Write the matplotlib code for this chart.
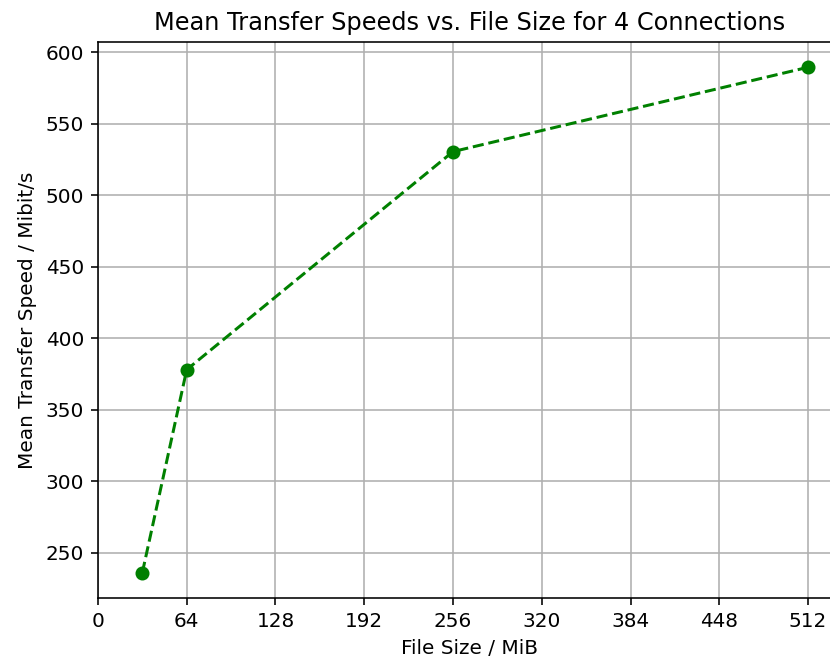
import matplotlib
matplotlib.use("Agg")
import matplotlib.pyplot as plt

file_sizes = [32, 64, 256, 512]
mean_speeds = [236, 378, 530.5, 589.5]
x_ticks = [0, 64, 128, 192, 256, 320, 384, 448, 512]

# picture is 830x659, drawn at dpi 144 with default font sizes
fig = plt.figure(figsize=(830 / 144, 659 / 144), dpi=144)
ax = fig.add_axes([0.118, 0.0926, 0.8957, 0.8437])
ax.plot(file_sizes, mean_speeds, color='green', linestyle='--', marker='o')
ax.set_xticks(x_ticks)
ax.set_xlim(0, 536)
ax.grid(True)
ax.set_title('Mean Transfer Speeds vs. File Size for 4 Connections')
ax.set_xlabel('File Size / MiB')
ax.set_ylabel('Mean Transfer Speed / Mibit/s')

fig.savefig('out.png', dpi=144)
